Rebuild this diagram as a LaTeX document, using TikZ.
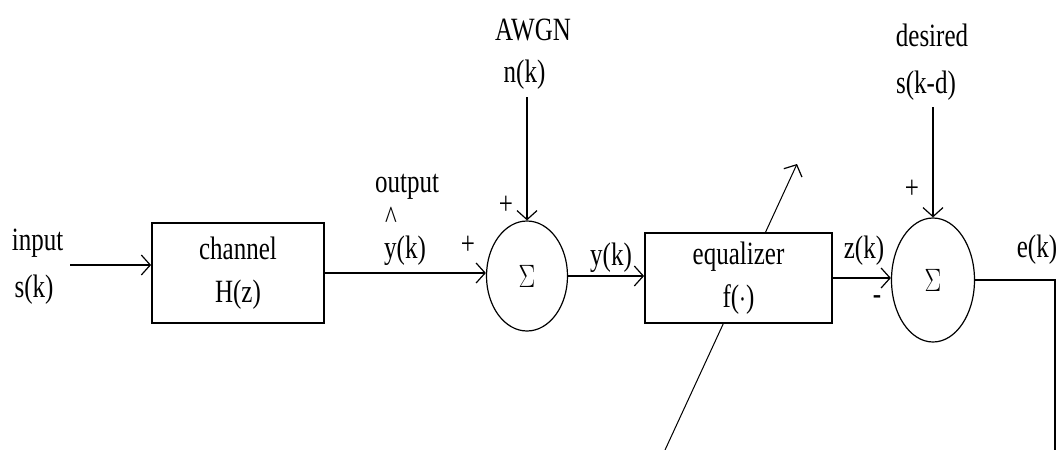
\documentclass[tikz,border=0pt]{standalone}
\usepackage{fontspec}
\usepackage{graphicx}
\setmainfont{Liberation Serif}
\usetikzlibrary{shapes.geometric,arrows.meta}
\newcommand\st[1]{\scalebox{1}[1.3]{#1}}
\tikzset{
  arr/.style={line width=1.3pt,-{Straight Barb[length=9pt,width=20pt,line width=1.2pt]}},
  wire/.style={line width=1.3pt},
  block/.style={draw,line width=1.8pt,fill=white,align=center,inner sep=0pt,
    font=\fontsize{25}{43}\selectfont},
  summer/.style={draw,ellipse,line width=1.2pt,inner sep=0pt,font=\fontsize{25}{30}\selectfont},
  lbl/.style={anchor=base,inner sep=0pt,font=\fontsize{25}{30}\selectfont},
}
\begin{document}
\begin{tikzpicture}[x=1pt,y=-1pt]
\useasboundingbox (0,0) rectangle (1061,450);
% labels
\node[lbl] (inA) at (37.5,250) {\st{input}};
\node[lbl] (inB) at (34,297) {\st{s(k)}};
\node[lbl] (outA) at (407,192) {\st{output}};
\node[lbl] (outH) at (391,228) {\st{\textasciicircum}};
\node[lbl] (outB) at (405,258) {\st{y(k)}};
\node[lbl] (p1) at (468,254) {\st{+}};
\node[lbl] (p2) at (506,214) {\st{+}};
\node[lbl] (nA) at (533,40) {\st{AWGN}};
\node[lbl] (nB) at (524.5,82) {\st{n(k)}};
\node[lbl] (yk) at (611,265) {\st{y(k)}};
\node[lbl] (zk) at (864,258) {\st{z(k)}};
\node[lbl] (m1) at (877,304) {\st{-}};
\node[lbl] (p3) at (912,198) {\st{+}};
\node[lbl] (dA) at (932,46) {\st{desired}};
\node[lbl] (dB) at (926,93) {\st{s(k-d)}};
\node[lbl] (ek) at (1037,257) {\st{e(k)}};
% blocks
\node[block,minimum width=172pt,minimum height=100pt] (chan) at (238,273) {\st{channel}\\\st{H(z)}};
\node[summer,minimum width=81pt,minimum height=110pt] (sum1) at (527,276) {\st{$\Sigma$}};
\coordinate (adB) at (665,450);
\coordinate (adT) at (797,164);
\draw[arr,line width=1pt] (adB) -- (adT);
\node[block,minimum width=187pt,minimum height=90pt] (eq) at (738.5,278) {\st{equalizer}\\\st{f($\cdot$)}};
\node[summer,minimum width=83pt,minimum height=124pt] (sum2) at (933,280) {\st{$\Sigma$}};
% connectors
\coordinate (inS) at (70,265);
\draw[arr] (inS) -- (inS -| chan.west);
\draw[arr] (chan.east) -- (chan.east -| sum1.west);
\draw[arr] (sum1.east) -- (sum1.east -| eq.west);
\draw[arr] (eq.east) -- (eq.east -| sum2.west);
\coordinate (nS) at (527,97);
\draw[arr] (nS) -- (sum1.north);
\coordinate (dS) at (933,107);
\draw[arr] (dS) -- (sum2.north);
\coordinate (eEnd) at (1055,450);
\draw[wire] (sum2.east) -| (eEnd);
\end{tikzpicture}
\end{document}
